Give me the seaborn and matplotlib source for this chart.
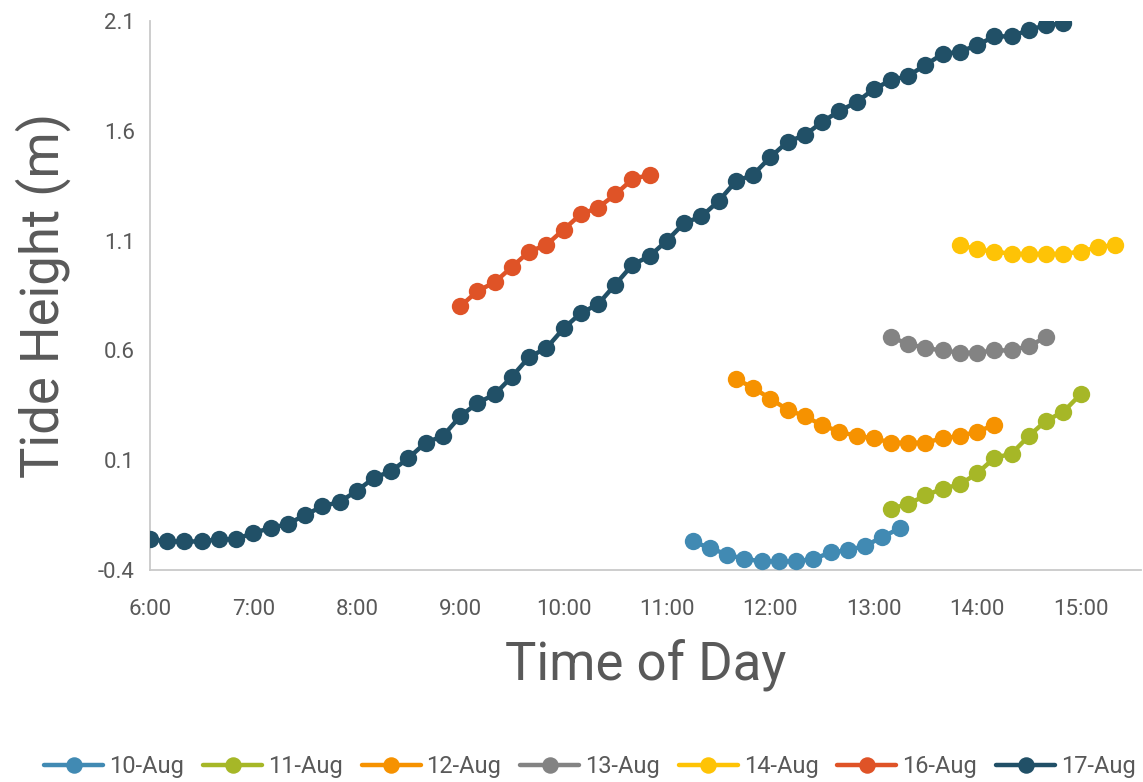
import matplotlib
matplotlib.use("Agg")
import matplotlib.pyplot as plt
import seaborn as sns
import pandas as pd

# Sampling times (10-minute readings) and tide heights in metres for each day
times_10aug = ["11:15", "11:25", "11:35", "11:45", "11:55", "12:05", "12:15",
               "12:25", "12:35", "12:45", "12:55", "13:05", "13:15"]
height_10aug = [-0.27, -0.30, -0.33, -0.35, -0.36, -0.36, -0.36,
                -0.35, -0.32, -0.31, -0.29, -0.25, -0.21]

times_11aug = ["13:10", "13:20", "13:30", "13:40", "13:50", "14:00",
               "14:10", "14:20", "14:30", "14:40", "14:50", "15:00"]
height_11aug = [-0.12, -0.10, -0.06, -0.03, -0.01, 0.04,
                0.11, 0.13, 0.21, 0.28, 0.32, 0.40]

times_12aug = ["11:40", "11:50", "12:00", "12:10", "12:20", "12:30", "12:40", "12:50",
               "13:00", "13:10", "13:20", "13:30", "13:40", "13:50", "14:00", "14:10"]
height_12aug = [0.47, 0.43, 0.38, 0.33, 0.30, 0.26, 0.23, 0.21,
                0.20, 0.18, 0.18, 0.18, 0.20, 0.21, 0.23, 0.26]

times_13aug = ["13:10", "13:20", "13:30", "13:40", "13:50",
               "14:00", "14:10", "14:20", "14:30", "14:40"]
height_13aug = [0.66, 0.63, 0.61, 0.60, 0.59, 0.59, 0.60, 0.60, 0.62, 0.66]

times_14aug = ["13:50", "14:00", "14:10", "14:20", "14:30",
               "14:40", "14:50", "15:00", "15:10", "15:20"]
height_14aug = [1.08, 1.06, 1.05, 1.04, 1.04, 1.04, 1.04, 1.05, 1.07, 1.08]

times_16aug = ["9:00", "9:10", "9:20", "9:30", "9:40", "9:50",
               "10:00", "10:10", "10:20", "10:30", "10:40", "10:50"]
height_16aug = [0.80, 0.87, 0.91, 0.98, 1.05, 1.08,
                1.15, 1.22, 1.25, 1.31, 1.38, 1.40]

times_17aug = ["6:00", "6:10", "6:20", "6:30", "6:40", "6:50",
               "7:00", "7:10", "7:20", "7:30", "7:40", "7:50",
               "8:00", "8:10", "8:20", "8:30", "8:40", "8:50",
               "9:00", "9:10", "9:20", "9:30", "9:40", "9:50",
               "10:00", "10:10", "10:20", "10:30", "10:40", "10:50",
               "11:00", "11:10", "11:20", "11:30", "11:40", "11:50",
               "12:00", "12:10", "12:20", "12:30", "12:40", "12:50",
               "13:00", "13:10", "13:20", "13:30", "13:40", "13:50",
               "14:00", "14:10", "14:20", "14:30", "14:40", "14:50"]
height_17aug = [-0.26, -0.27, -0.27, -0.27, -0.26, -0.26,
                -0.23, -0.21, -0.19, -0.15, -0.11, -0.09,
                -0.04, 0.02, 0.05, 0.11, 0.18, 0.21,
                0.30, 0.36, 0.40, 0.48, 0.57, 0.61,
                0.70, 0.77, 0.81, 0.90, 0.99, 1.03,
                1.10, 1.18, 1.21, 1.28, 1.37, 1.40,
                1.48, 1.55, 1.58, 1.64, 1.69, 1.73,
                1.79, 1.83, 1.85, 1.90, 1.95, 1.96,
                1.99, 2.03, 2.03, 2.06, 2.08, 2.09]

day_labels = ["10-Aug", "11-Aug", "12-Aug", "13-Aug", "14-Aug", "16-Aug", "17-Aug"]
day_colors = ["#418AB3", "#A6B727", "#F69200", "#838383", "#FEC306", "#DF5327", "#215067"]

x_ticks = [6, 7, 8, 9, 10, 11, 12, 13, 14, 15]
y_ticks = [-0.4, 0.1, 0.6, 1.1, 1.6, 2.1]

series = [
    (times_10aug, height_10aug),
    (times_11aug, height_11aug),
    (times_12aug, height_12aug),
    (times_13aug, height_13aug),
    (times_14aug, height_14aug),
    (times_16aug, height_16aug),
    (times_17aug, height_17aug),
]


def to_hours(t):
    h, m = t.split(":")
    return int(h) + int(m) / 60.0


frames = []
for label, (times, heights) in zip(day_labels, series):
    frames.append(pd.DataFrame({
        "hour": [to_hours(t) for t in times],
        "height": heights,
        "day": label,
    }))
df = pd.concat(frames, ignore_index=True)

sns.set_theme(style="white")
plt.rcParams["font.family"] = ["Roboto", "DejaVu Sans"]

text_gray = "#595959"
axis_gray = "#C9C9C9"

W, H = 1143, 782
fig = plt.figure(figsize=(W / 100, H / 100), dpi=100)
ax = fig.add_axes([150 / W, 1 - 570 / H, (1141 - 150) / W, (570 - 21) / H])

for label, color in zip(day_labels, day_colors):
    sub = df[df["day"] == label]
    sns.lineplot(data=sub, x="hour", y="height", ax=ax, color=color,
                 linewidth=3.2, marker="o", markersize=12.5,
                 markeredgewidth=0, label=label, legend=False, zorder=3)

ax.set_xlim(6, 15.585)
ax.set_ylim(-0.4, 2.1)
ax.set_xticks(x_ticks)
ax.set_xticklabels([f"{h}:00" for h in x_ticks])
ax.set_yticks(y_ticks)
ax.set_yticklabels([f"{v:.1f}" for v in y_ticks])
ax.tick_params(axis="both", length=0, labelsize=16, colors=text_gray)
ax.tick_params(axis="y", pad=11)
ax.tick_params(axis="x", pad=21)

for side in ["top", "right"]:
    ax.spines[side].set_visible(False)
for side in ["left", "bottom"]:
    ax.spines[side].set_color(axis_gray)
    ax.spines[side].set_linewidth(1.3)
ax.grid(False)

ax.set_xlabel("Time of Day", fontsize=38, color=text_gray)
ax.set_ylabel("Tide Height (m)", fontsize=38, color=text_gray)
ax.xaxis.set_label_coords(0.5, -0.125)
ax.yaxis.set_label_coords(-0.08, 0.5)

handles, labels = ax.get_legend_handles_labels()
fig.legend(handles, labels, loc="center", bbox_to_anchor=(590 / W, 1 - 767 / H),
           ncol=7, frameon=False, fontsize=17, labelcolor=text_gray,
           handlelength=2.5, handletextpad=0.25, columnspacing=0.8,
           markerscale=0.95)

fig.savefig("out.png", dpi=100)
